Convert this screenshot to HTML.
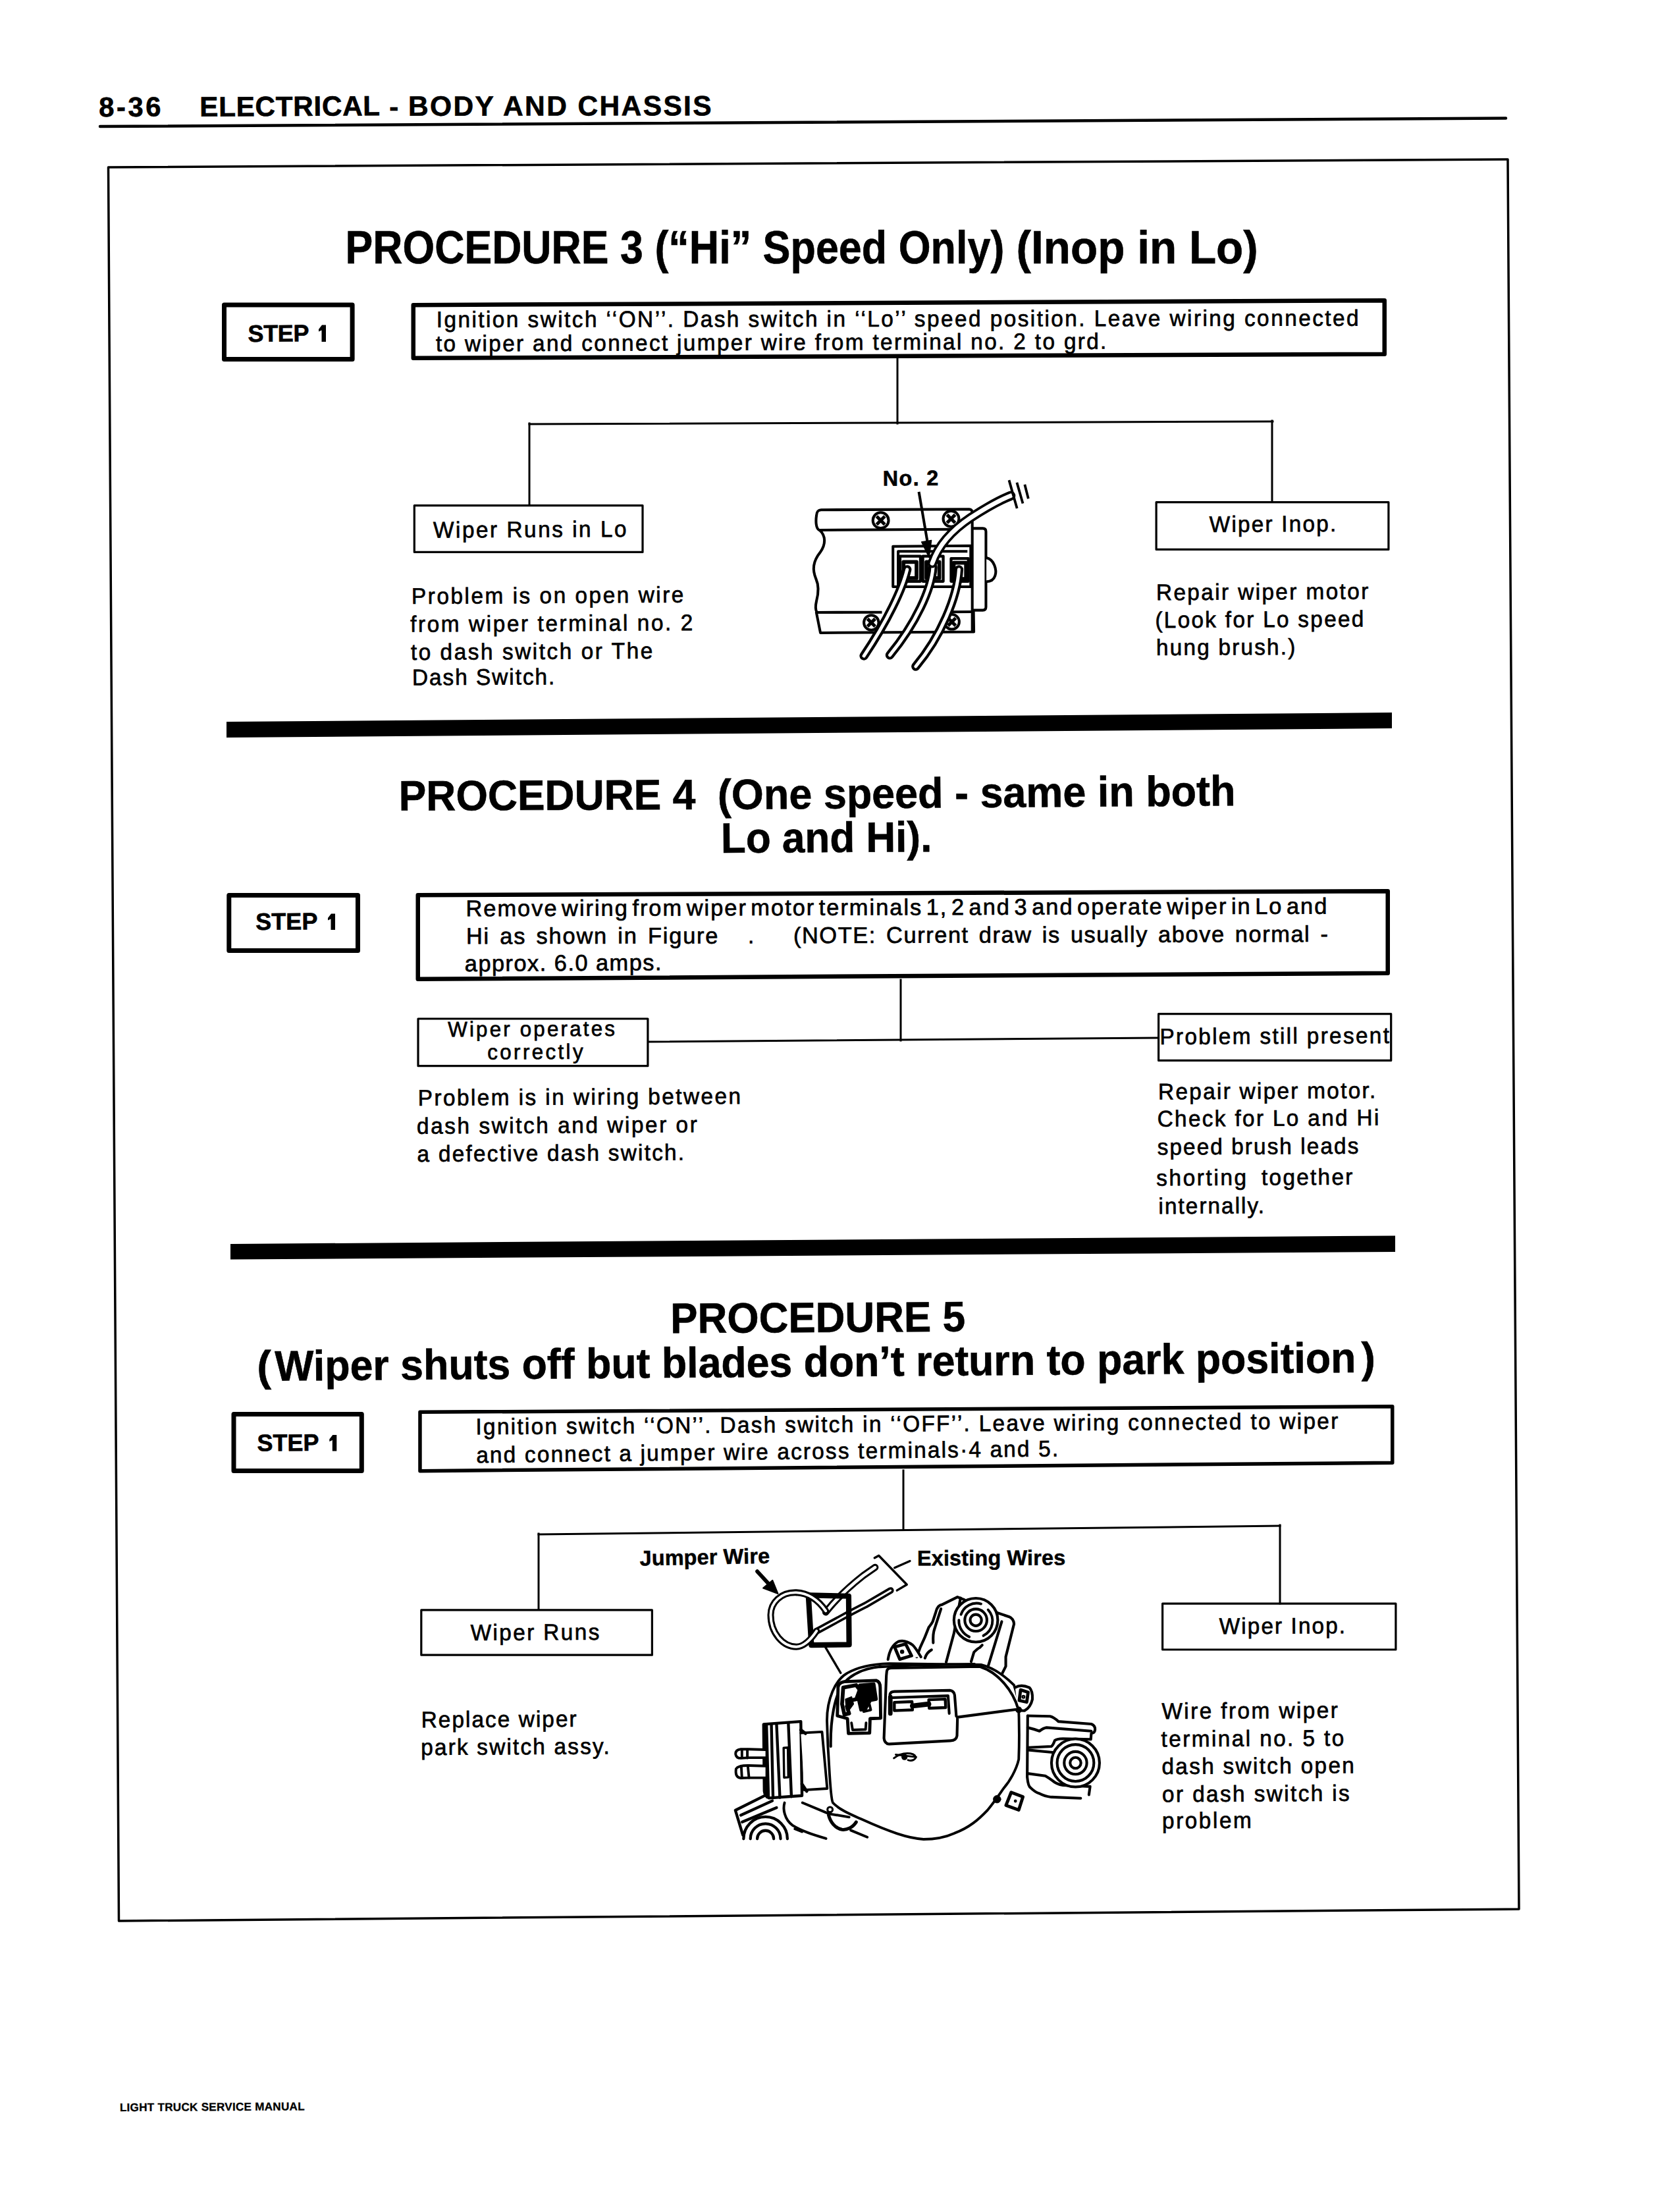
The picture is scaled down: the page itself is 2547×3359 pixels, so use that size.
<!DOCTYPE html>
<html><head><meta charset="utf-8"><title>8-36 Electrical - Body and Chassis</title>
<style>
html,body{margin:0;padding:0;background:#fff;}
body{width:2547px;height:3359px;overflow:hidden;}
svg{display:block;}
text{font-family:"Liberation Sans",sans-serif;fill:#000;stroke:#000;}
</style></head><body>
<svg width="2547" height="3359" viewBox="0 0 2547 3359">
<rect width="2547" height="3359" fill="#fff"/>
<g stroke="#000" fill="none" stroke-linecap="square">
<path d="M152,192 L2287,179.5" stroke-width="4.5" stroke-linecap="round"/>
<path d="M164.5,254 L2290,242 L2307,2899 L180.5,2917 Z" stroke-width="3.5" fill="none" stroke-linejoin="round"/>
<path d="M340.5,463.0 L535.1,463.0 L535.1,545.5 L340.5,545.5 Z" stroke-width="7" fill="none" stroke-linejoin="round"/>
<path d="M484,500.0 L489,493.5 L495,493.5 L495,519 L488.5,519 L488.5,501.5 L484,503.5 Z" fill="#000" stroke="none"/>
<path d="M627.75,463.25 L2102.75,456.25 L2102.75,537.75 L627.75,543.75 Z" stroke-width="6.5" fill="none" stroke-linejoin="round"/>
<line x1="1363" y1="545" x2="1363" y2="643" stroke-width="3"/>
<line x1="804" y1="644" x2="1933" y2="640" stroke-width="3"/>
<line x1="804" y1="643" x2="804" y2="767" stroke-width="3"/>
<line x1="1932" y1="639" x2="1932" y2="762" stroke-width="3"/>
<path d="M629.3000000000001,767.6 L976.0,767.6 L976.0,838.4 L629.3000000000001,838.4 Z" stroke-width="3.2" fill="none" stroke-linejoin="round"/>
<path d="M1756.1,762.6 L2108.9,762.6 L2108.9,834.4 L1756.1,834.4 Z" stroke-width="3.2" fill="none" stroke-linejoin="round"/>
<path d="M344,1096 L2114,1082 L2114,1106 L344,1120 Z" fill="#000" stroke="none"/>
<path d="M347.8,1359.5 L543.5,1359.5 L543.5,1443.5 L347.8,1443.5 Z" stroke-width="7" fill="none" stroke-linejoin="round"/>
<path d="M498,1394.0 L503,1387.5 L509,1387.5 L509,1412 L502.5,1412 L502.5,1395.5 L498,1397.5 Z" fill="#000" stroke="none"/>
<path d="M634.75,1359.25 L2107.75,1353.25 L2107.75,1477.75 L634.75,1486.75 Z" stroke-width="6.5" fill="none" stroke-linejoin="round"/>
<line x1="1368" y1="1488" x2="1368" y2="1580" stroke-width="3"/>
<line x1="985" y1="1582" x2="1758" y2="1576" stroke-width="3"/>
<path d="M635.0,1547.0 L983.9,1547.0 L983.9,1618.7 L635.0,1618.7 Z" stroke-width="3.2" fill="none" stroke-linejoin="round"/>
<path d="M1759.6,1539.6 L2112.7000000000003,1539.6 L2112.7000000000003,1610.4 L1759.6,1610.4 Z" stroke-width="3.2" fill="none" stroke-linejoin="round"/>
<path d="M350,1889 L2119,1876.5 L2119,1901 L350,1912.5 Z" fill="#000" stroke="none"/>
<path d="M355.0,2147.5 L549.3,2147.5 L549.3,2233.5 L355.0,2233.5 Z" stroke-width="7" fill="none" stroke-linejoin="round"/>
<path d="M500.3,2185.5 L505.3,2179 L511.3,2179 L511.3,2203.5 L504.8,2203.5 L504.8,2187 L500.3,2189 Z" fill="#000" stroke="none"/>
<path d="M637.95,2144.35 L2114.75,2135.75 L2114.75,2221.25 L637.95,2233.65 Z" stroke-width="5.5" fill="none" stroke-linejoin="round"/>
<line x1="1372" y1="2233" x2="1372" y2="2323" stroke-width="3"/>
<line x1="818" y1="2330" x2="1944" y2="2317" stroke-width="3"/>
<line x1="818" y1="2329" x2="818" y2="2444" stroke-width="3"/>
<line x1="1944" y1="2316" x2="1944" y2="2435" stroke-width="3"/>
<path d="M639.8000000000001,2444.9 L990.4,2444.9 L990.4,2513.2000000000003 L639.8000000000001,2513.2000000000003 Z" stroke-width="3.2" fill="none" stroke-linejoin="round"/>
<path d="M1765.6,2435.2 L2119.9,2435.2 L2119.9,2505.0 L1765.6,2505.0 Z" stroke-width="3.2" fill="none" stroke-linejoin="round"/>
</g>
<g>
<text x="0" y="0" font-size="41.86" font-weight="bold" textLength="94.3" lengthAdjust="spacing" stroke-width="0.6" transform="translate(150.3 177.0) rotate(-0.330) scale(1.0 1)">8-36</text>
<text x="0" y="0" font-size="42.30" font-weight="bold" textLength="273.9" lengthAdjust="spacing" stroke-width="0.6" transform="translate(303.3 176.8) rotate(-0.330) scale(1.0 1)">ELECTRICAL</text>
<text x="0" y="0" font-size="42.30" font-weight="bold" textLength="12.4" lengthAdjust="spacing" stroke-width="0.6" transform="translate(591.3 176.5) rotate(-0.330) scale(1.0 1)">-</text>
<text x="0" y="0" font-size="42.59" font-weight="bold" textLength="460.8" lengthAdjust="spacing" stroke-width="0.6" transform="translate(619.9 175.8) rotate(-0.088) scale(1.0 1)">BODY AND CHASSIS</text>
<text x="524.6" y="399.7" font-size="69.77" font-weight="bold" textLength="452.1" lengthAdjust="spacingAndGlyphs" stroke-width="0.6" transform="rotate(0.000 524.6 399.7)">PROCEDURE 3</text>
<text x="994.4" y="399.7" font-size="70.49" font-weight="bold" textLength="531.0" lengthAdjust="spacingAndGlyphs" stroke-width="0.6" transform="rotate(0.000 994.4 399.7)">(“Hi” Speed Only)</text>
<text x="1543.6" y="399.6" font-size="71.22" font-weight="bold" textLength="367.2" lengthAdjust="spacingAndGlyphs" stroke-width="0.6" transform="rotate(0.000 1543.6 399.6)">(Inop in Lo)</text>
<text x="0" y="0" font-size="36.05" font-weight="bold" textLength="92.9" lengthAdjust="spacing" stroke-width="0.6" transform="translate(376.6 519.0) rotate(-0.330) scale(1.0 1)">STEP</text>
<text x="0" y="0" font-size="34.45" font-weight="normal" textLength="1444.2" lengthAdjust="spacing" stroke-width="0.7" transform="translate(662.7 497.0) rotate(-0.098) scale(0.97 1)">Ignition switch ‘‘ON’’. Dash switch in ‘‘Lo’’ speed position. Leave wiring connected</text>
<text x="0" y="0" font-size="34.45" font-weight="normal" textLength="1049.9" lengthAdjust="spacing" stroke-width="0.7" transform="translate(662.0 533.6) rotate(-0.214) scale(0.97 1)">to wiper and connect jumper wire from terminal no. 2 to grd.</text>
<text x="0" y="0" font-size="34.45" font-weight="normal" textLength="302.7" lengthAdjust="spacing" stroke-width="0.7" transform="translate(658.0 816.6) rotate(-0.330) scale(0.97 1)">Wiper Runs in Lo</text>
<text x="0" y="0" font-size="34.45" font-weight="normal" textLength="198.6" lengthAdjust="spacing" stroke-width="0.7" transform="translate(1836.7 808.0) rotate(-0.330) scale(0.97 1)">Wiper Inop.</text>
<text x="0" y="0" font-size="34.45" font-weight="normal" textLength="426.2" lengthAdjust="spacing" stroke-width="0.7" transform="translate(625.0 917.1) rotate(-0.330) scale(0.97 1)">Problem is on open wire</text>
<text x="0" y="0" font-size="34.45" font-weight="normal" textLength="442.4" lengthAdjust="spacing" stroke-width="0.7" transform="translate(623.2 959.6) rotate(-0.330) scale(0.97 1)">from wiper terminal no. 2</text>
<text x="0" y="0" font-size="34.45" font-weight="normal" textLength="378.8" lengthAdjust="spacing" stroke-width="0.7" transform="translate(623.9 1002.0) rotate(-0.330) scale(0.97 1)">to dash switch or The</text>
<text x="0" y="0" font-size="34.45" font-weight="normal" textLength="223.2" lengthAdjust="spacing" stroke-width="0.7" transform="translate(625.9 1040.5) rotate(-0.330) scale(0.97 1)">Dash Switch.</text>
<text x="0" y="0" font-size="34.45" font-weight="normal" textLength="332.4" lengthAdjust="spacing" stroke-width="0.7" transform="translate(1755.9 911.3) rotate(-0.330) scale(0.97 1)">Repair wiper motor</text>
<text x="0" y="0" font-size="34.45" font-weight="normal" textLength="326.7" lengthAdjust="spacing" stroke-width="0.7" transform="translate(1754.5 953.3) rotate(-0.330) scale(0.97 1)">(Look for Lo speed</text>
<text x="0" y="0" font-size="34.45" font-weight="normal" textLength="218.1" lengthAdjust="spacing" stroke-width="0.7" transform="translate(1755.9 995.1) rotate(-0.330) scale(0.97 1)">hung brush.)</text>
<text x="605.7" y="1230.8" font-size="64.68" font-weight="bold" textLength="450.8" lengthAdjust="spacingAndGlyphs" stroke-width="0.6" transform="rotate(-0.231 605.7 1230.8)">PROCEDURE 4</text>
<text x="1090.1" y="1229.0" font-size="64.68" font-weight="bold" textLength="786.6" lengthAdjust="spacingAndGlyphs" stroke-width="0.6" transform="rotate(-0.425 1090.1 1229.0)">(One speed - same in both</text>
<text x="1095.1" y="1295.0" font-size="64.68" font-weight="bold" textLength="320.4" lengthAdjust="spacingAndGlyphs" stroke-width="0.6" transform="rotate(-0.330 1095.1 1295.0)">Lo and Hi).</text>
<text x="0" y="0" font-size="36.05" font-weight="bold" textLength="94.3" lengthAdjust="spacing" stroke-width="0.6" transform="translate(388.2 1412.0) rotate(-0.330) scale(1.0 1)">STEP</text>
<text x="0" y="0" font-size="34.45" font-weight="normal" textLength="1307.9" lengthAdjust="spacing" stroke-width="0.7" word-spacing="-6" transform="translate(707.5 1391.3) rotate(-0.162) scale(1.0 1)">Remove wiring from wiper motor terminals 1, 2 and 3 and operate wiper in Lo and</text>
<text x="0" y="0" font-size="34.45" font-weight="normal" textLength="382.6" lengthAdjust="spacing" stroke-width="0.7" word-spacing="4" transform="translate(707.9 1433.3) rotate(-0.106) scale(1.0 1)">Hi as shown in Figure</text>
<text x="0" y="0" font-size="34.45" font-weight="normal" textLength="7.4" lengthAdjust="spacing" stroke-width="0.7" transform="translate(1136.1 1432.4) rotate(-0.330) scale(0.97 1)">.</text>
<text x="0" y="0" font-size="34.45" font-weight="normal" textLength="812.0" lengthAdjust="spacing" stroke-width="0.7" word-spacing="4" transform="translate(1204.9 1432.2) rotate(-0.156) scale(1.0 1)">(NOTE: Current draw is usually above normal -</text>
<text x="0" y="0" font-size="34.45" font-weight="normal" textLength="298.8" lengthAdjust="spacing" stroke-width="0.7" transform="translate(705.8 1475.0) rotate(-0.330) scale(1.0 1)">approx. 6.0 amps.</text>
<text x="0" y="0" font-size="32.41" font-weight="normal" textLength="261.6" lengthAdjust="spacing" stroke-width="0.7" transform="translate(680.2 1574.3) rotate(-0.330) scale(0.97 1)">Wiper operates</text>
<text x="0" y="0" font-size="32.41" font-weight="normal" textLength="149.8" lengthAdjust="spacing" stroke-width="0.7" transform="translate(740.3 1608.7) rotate(-0.330) scale(0.97 1)">correctly</text>
<text x="0" y="0" font-size="34.45" font-weight="normal" textLength="359.4" lengthAdjust="spacing" stroke-width="0.7" transform="translate(1761.4 1586.0) rotate(-0.330) scale(0.97 1)">Problem still present</text>
<text x="0" y="0" font-size="34.45" font-weight="normal" textLength="505.6" lengthAdjust="spacing" stroke-width="0.7" transform="translate(634.7 1678.9) rotate(-0.330) scale(0.97 1)">Problem is in wiring between</text>
<text x="0" y="0" font-size="34.45" font-weight="normal" textLength="438.9" lengthAdjust="spacing" stroke-width="0.7" transform="translate(633.1 1721.7) rotate(-0.330) scale(0.97 1)">dash switch and wiper or</text>
<text x="0" y="0" font-size="34.45" font-weight="normal" textLength="418.1" lengthAdjust="spacing" stroke-width="0.7" transform="translate(633.6 1764.0) rotate(-0.330) scale(0.97 1)">a defective dash switch.</text>
<text x="0" y="0" font-size="34.45" font-weight="normal" textLength="340.5" lengthAdjust="spacing" stroke-width="0.7" transform="translate(1759.1 1669.4) rotate(-0.330) scale(0.97 1)">Repair wiper motor.</text>
<text x="0" y="0" font-size="34.45" font-weight="normal" textLength="347.1" lengthAdjust="spacing" stroke-width="0.7" transform="translate(1757.7 1710.7) rotate(-0.330) scale(0.97 1)">Check for Lo and Hi</text>
<text x="0" y="0" font-size="34.45" font-weight="normal" textLength="315.1" lengthAdjust="spacing" stroke-width="0.7" transform="translate(1757.7 1753.5) rotate(-0.330) scale(0.97 1)">speed brush leads</text>
<text x="0" y="0" font-size="34.45" font-weight="normal" textLength="141.1" lengthAdjust="spacing" stroke-width="0.7" transform="translate(1756.3 1800.4) rotate(-0.330) scale(0.97 1)">shorting</text>
<text x="0" y="0" font-size="34.45" font-weight="normal" textLength="142.5" lengthAdjust="spacing" stroke-width="0.7" transform="translate(1916.1 1799.6) rotate(-0.330) scale(0.97 1)">together</text>
<text x="0" y="0" font-size="34.45" font-weight="normal" textLength="165.4" lengthAdjust="spacing" stroke-width="0.7" transform="translate(1759.6 1843.2) rotate(-0.330) scale(0.97 1)">internally.</text>
<text x="1018.3" y="2024.2" font-size="64.68" font-weight="bold" textLength="447.9" lengthAdjust="spacingAndGlyphs" stroke-width="0.6" transform="rotate(-0.330 1018.3 2024.2)">PROCEDURE 5</text>
<text x="390.5" y="2096.8" font-size="64.68" font-weight="bold" textLength="21.5" lengthAdjust="spacingAndGlyphs" stroke-width="0.6" transform="rotate(-0.437 390.5 2096.8)">(</text>
<text x="417.5" y="2096.6" font-size="64.68" font-weight="bold" textLength="1642.0" lengthAdjust="spacingAndGlyphs" stroke-width="0.6" transform="rotate(-0.437 417.5 2096.6)">Wiper shuts off but blades don’t return to park position</text>
<text x="2067.7" y="2084.0" font-size="64.68" font-weight="bold" textLength="21.3" lengthAdjust="spacingAndGlyphs" stroke-width="0.6" transform="rotate(-0.437 2067.7 2084.0)">)</text>
<text x="0" y="0" font-size="36.05" font-weight="bold" textLength="93.9" lengthAdjust="spacing" stroke-width="0.6" transform="translate(390.6 2203.5) rotate(-0.330) scale(1.0 1)">STEP</text>
<text x="0" y="0" font-size="34.45" font-weight="normal" textLength="1350.4" lengthAdjust="spacing" stroke-width="0.7" transform="translate(722.5 2178.3) rotate(-0.386) scale(0.97 1)">Ignition switch ‘‘ON’’. Dash switch in ‘‘OFF’’. Leave wiring connected to wiper</text>
<text x="0" y="0" font-size="34.45" font-weight="normal" textLength="911.3" lengthAdjust="spacing" stroke-width="0.7" transform="translate(723.4 2221.2) rotate(-0.637) scale(0.97 1)">and connect a jumper wire across terminals·4 and 5.</text>
<text x="0" y="0" font-size="34.45" font-weight="normal" textLength="201.7" lengthAdjust="spacing" stroke-width="0.7" transform="translate(714.7 2491.0) rotate(-0.330) scale(0.97 1)">Wiper Runs</text>
<text x="0" y="0" font-size="34.45" font-weight="normal" textLength="197.4" lengthAdjust="spacing" stroke-width="0.7" transform="translate(1851.7 2481.3) rotate(-0.330) scale(0.97 1)">Wiper Inop.</text>
<text x="0" y="0" font-size="32.41" font-weight="bold" textLength="197.5" lengthAdjust="spacing" stroke-width="0.5" transform="translate(971.8 2377.4) rotate(-1.058) scale(1.0 1)">Jumper Wire</text>
<text x="0" y="0" font-size="32.41" font-weight="bold" textLength="225.4" lengthAdjust="spacing" stroke-width="0.5" transform="translate(1392.9 2377.3) rotate(-0.206) scale(1.0 1)">Existing Wires</text>
<text x="0" y="0" font-size="34.45" font-weight="normal" textLength="243.3" lengthAdjust="spacing" stroke-width="0.7" transform="translate(639.7 2623.2) rotate(-0.330) scale(0.97 1)">Replace wiper</text>
<text x="0" y="0" font-size="34.45" font-weight="normal" textLength="295.4" lengthAdjust="spacing" stroke-width="0.7" transform="translate(639.2 2665.0) rotate(-0.330) scale(0.97 1)">park switch assy.</text>
<text x="0" y="0" font-size="34.45" font-weight="normal" textLength="275.7" lengthAdjust="spacing" stroke-width="0.7" transform="translate(1764.4 2610.2) rotate(-0.330) scale(0.97 1)">Wire from wiper</text>
<text x="0" y="0" font-size="34.45" font-weight="normal" textLength="286.5" lengthAdjust="spacing" stroke-width="0.7" transform="translate(1763.5 2652.4) rotate(-0.330) scale(0.97 1)">terminal no. 5 to</text>
<text x="0" y="0" font-size="34.45" font-weight="normal" textLength="301.6" lengthAdjust="spacing" stroke-width="0.7" transform="translate(1764.4 2694.0) rotate(-0.330) scale(0.97 1)">dash switch open</text>
<text x="0" y="0" font-size="34.45" font-weight="normal" textLength="293.5" lengthAdjust="spacing" stroke-width="0.7" transform="translate(1765.1 2736.3) rotate(-0.330) scale(0.97 1)">or dash switch is</text>
<text x="0" y="0" font-size="34.45" font-weight="normal" textLength="139.9" lengthAdjust="spacing" stroke-width="0.7" transform="translate(1765.1 2776.5) rotate(-0.330) scale(0.97 1)">problem</text>
<text x="0" y="0" font-size="17.15" font-weight="bold" textLength="280.8" lengthAdjust="spacing" stroke-width="0.3" transform="translate(181.9 3206.0) rotate(-0.330) scale(1.0 1)">LIGHT TRUCK SERVICE MANUAL</text>
</g>
<g transform="translate(1200,680) scale(0.23852)" stroke-linejoin="round"><path d="M1155,513 L1227,513 Q1247,513 1247,533 L1247,1014 Q1247,1034 1227,1034 L1160,1034" fill="#fff" stroke="#000" stroke-width="17"/><path d="M1250,700 C1300,710 1318,780 1305,815 C1295,845 1272,852 1250,852" fill="#fff" stroke="#000" stroke-width="17"/><path d="M188,524 C228,560 228,615 192,665 C145,725 140,775 165,835 C185,880 180,930 168,975 C160,1010 160,1030 170,1046" fill="none" stroke="#000" stroke-width="17"/><path d="M1050,519 L185,524 C165,515 162,470 168,430 C170,405 178,396 198,395 L1140,391 Q1158,392 1160,410 L1160,1176" fill="none" stroke="#000" stroke-width="17"/><path d="M585,1047 L167,1048 L193,1178 L1170,1172 L1168,1040" fill="none" stroke="#000" stroke-width="17"/><path d="M1010,1045 L1165,1044" fill="none" stroke="#000" stroke-width="17"/><circle cx="577" cy="462" r="50" fill="#fff" stroke="#000" stroke-width="17"/><path d="M551.0,436.0 L603.0,488.0 M603.0,436.0 L551.0,488.0" stroke="#000" stroke-width="21"/><circle cx="1025" cy="452" r="50" fill="#fff" stroke="#000" stroke-width="17"/><path d="M999.0,426.0 L1051.0,478.0 M1051.0,426.0 L999.0,478.0" stroke="#000" stroke-width="21"/><circle cx="517" cy="1113" r="47" fill="#fff" stroke="#000" stroke-width="17"/><path d="M492.56,1088.56 L541.44,1137.44 M541.44,1088.56 L492.56,1137.44" stroke="#000" stroke-width="21"/><circle cx="1030" cy="1108" r="47" fill="#fff" stroke="#000" stroke-width="17"/><path d="M1005.56,1083.56 L1054.44,1132.44 M1054.44,1083.56 L1005.56,1132.44" stroke="#000" stroke-width="21"/><path d="M655,628 L1150,624 L1150,885 L655,885 Z" fill="#fff" stroke="#000" stroke-width="17"/><path d="M688,880 L688,659 L1129,659" fill="none" stroke="#000" stroke-width="17"/><path d="M700,690 L830,690 L830,850 L700,850 Z" fill="#fff" stroke="#000" stroke-width="18"/><path d="M845,690 L975,690 L975,850 L845,850 Z" fill="#fff" stroke="#000" stroke-width="18"/><path d="M1025,705 L1135,705 L1135,850 L1025,850 Z" fill="#fff" stroke="#000" stroke-width="18"/><path d="M722,727 L805,727 L805,830 L722,830 Z" fill="#fff" stroke="#000" stroke-width="24"/><path d="M868,727 L950,727 L950,830 L868,830 Z" fill="#fff" stroke="#000" stroke-width="24"/><path d="M1042,732 L1120,732 L1120,835 L1042,835 Z" fill="#fff" stroke="#000" stroke-width="24"/><ellipse cx="735" cy="800" rx="28" ry="45" fill="#000"/><ellipse cx="898" cy="790" rx="26" ry="48" fill="#000"/><ellipse cx="1062" cy="800" rx="26" ry="45" fill="#000"/><path d="M745,775 C715,900 620,1100 470,1325" stroke="#000" stroke-width="56" fill="none" stroke-linecap="round"/><path d="M745,775 C715,900 620,1100 470,1325" stroke="#fff" stroke-width="21" fill="none" stroke-linecap="round"/><path d="M910,760 C900,900 800,1120 635,1320" stroke="#000" stroke-width="56" fill="none" stroke-linecap="round"/><path d="M910,760 C900,900 800,1120 635,1320" stroke="#fff" stroke-width="21" fill="none" stroke-linecap="round"/><path d="M1075,775 C1065,950 960,1200 800,1392" stroke="#000" stroke-width="56" fill="none" stroke-linecap="round"/><path d="M1075,775 C1065,950 960,1200 800,1392" stroke="#fff" stroke-width="21" fill="none" stroke-linecap="round"/><path d="M905,735 C945,620 1030,525 1150,445 C1250,380 1330,335 1405,305" stroke="#000" stroke-width="60" fill="none" stroke-linecap="round"/><path d="M905,735 C945,620 1030,525 1150,445 C1250,380 1330,335 1405,305" stroke="#fff" stroke-width="28" fill="none" stroke-linecap="round"/><path d="M1394,206 L1445,386 M1444,221 L1482,354 M1494,234 L1517,324" stroke="#000" stroke-width="16" fill="none"/><path d="M820,280 L878,620" stroke="#000" stroke-width="17" fill="none"/><path d="M837,599 L900,589 L885,699 Z" fill="#000" stroke="#000" stroke-width="6"/></g><text x="1340.8" y="737.4" font-size="32.4" font-weight="bold" textLength="84.5" lengthAdjust="spacing" stroke-width="0.6" transform="rotate(-0.33 1340.8 737.4)">No. 2</text><g transform="translate(1100,2330) scale(0.35778)" stroke-linejoin="round" stroke-linecap="round"><path d="M1288,770 L1383,772 Q1400,776 1418,794 L1558,805 Q1575,812 1574,828 Q1574,842 1558,845 L1556,870 L1438,867 Q1410,868 1403,875 Q1395,897 1388,900 L1288,905" stroke="#000" stroke-width="11.5" fill="#fff"/><path d="M1288,770 L1286,1030 Q1290,1070 1300,1075 Q1320,1095 1338,1100 Q1360,1112 1388,1115 L1513,1120" stroke="#000" stroke-width="11.5" fill="none"/><path d="M1288,820 Q1310,825 1338,835 Q1355,822 1368,820 L1558,835" stroke="#000" stroke-width="11.5" fill="none"/><path d="M1288,915 L1393,925" stroke="#000" stroke-width="11.5" fill="none"/><path d="M1288,1015 L1363,1025 Q1380,1035 1393,1045 Q1410,1060 1438,1065 L1553,1070 L1548,1105" stroke="#000" stroke-width="11.5" fill="none"/><circle cx="1491" cy="970" r="102" stroke="#000" stroke-width="11.5" fill="#fff"/><circle cx="1491" cy="970" r="78" stroke="#000" stroke-width="11.5" fill="none"/><circle cx="1491" cy="970" r="48" stroke="#000" stroke-width="11.5" fill="none"/><circle cx="1491" cy="970" r="23" stroke="#000" stroke-width="11.5" fill="none"/><path d="M817,520 Q830,480 850,440 L868,395 Q880,380 885,370 L898,330 Q905,300 925,298 L990,266 L1020,278" stroke="#000" stroke-width="11.5" fill="#fff"/><path d="M942,542 L975,420 L1003,270" stroke="#000" stroke-width="11.5" fill="none"/><path d="M887,460 Q885,420 893,400 L920,316" stroke="#000" stroke-width="11.5" fill="none"/><path d="M852,525 Q860,500 880,490" stroke="#000" stroke-width="11.5" fill="none"/><path d="M1150,330 L1210,350 Q1228,358 1230,380 L1195,520 Q1195,540 1195,560 L1175,600" stroke="#000" stroke-width="11.5" fill="none"/><path d="M1178,370 L1120,560" stroke="#000" stroke-width="11.5" fill="none"/><path d="M1048,540 L1060,500 Q1075,485 1085,480 L1095,470" stroke="#000" stroke-width="11.5" fill="none"/><circle cx="1068" cy="364" r="93" stroke="#000" stroke-width="11.5" fill="#fff"/><path d="M1005,340 A70,70 0 0 1 1090,295 M1120,320 A70,70 0 0 1 1100,430 M1040,435 A75,75 0 0 1 996,364" stroke="#000" stroke-width="11" fill="none"/><circle cx="1068" cy="364" r="47" stroke="#000" stroke-width="11.5" fill="none"/><circle cx="1068" cy="364" r="24" stroke="#000" stroke-width="11.5" fill="none"/><path d="M436,790 C436,700 470,620 520,590 C570,560 640,550 700,548 L1090,553 C1140,565 1190,600 1230,640 L1248,700 C1252,780 1252,900 1250,955 C1240,1000 1210,1050 1188,1075 C1170,1100 1150,1130 1118,1170 C1080,1210 1040,1245 978,1268 C940,1285 900,1294 846,1294 C780,1290 700,1262 583,1209 C540,1190 490,1170 461,1139 C450,1120 447,1000 440,900 Z" stroke="#000" stroke-width="10.8" fill="#fff"/><path d="M452,900 C450,780 470,690 500,640 C540,590 600,568 660,562 L800,555 L1062,551" stroke="#000" stroke-width="11.5" fill="none"/><path d="M695,531 C700,500 710,470 739,455 C760,448 780,455 800,470 C815,485 825,505 835,520" stroke="#000" stroke-width="11.5" fill="#fff"/><path d="M723,478 L770,465 L795,515 L745,530 Z" stroke="#000" stroke-width="13.5" fill="none"/><circle cx="755" cy="498" r="5" stroke="#000" stroke-width="8.1" fill="#000"/><path d="M1235,650 Q1260,635 1295,650 Q1310,665 1308,700 Q1300,735 1275,748 Q1255,750 1245,740" stroke="#000" stroke-width="11.5" fill="#fff"/><path d="M1258,660 L1290,670 L1284,712 L1252,705 Z" stroke="#000" stroke-width="13.5" fill="none"/><circle cx="1270" cy="690" r="5" stroke="#000" stroke-width="6.8" fill="none"/><circle cx="1250" cy="745" r="10" stroke="#000" stroke-width="8.1" fill="none"/><path d="M690,580 Q692,568 710,567 L1085,561 C1160,585 1225,660 1248,742 L990,776 L988,855 Q985,875 960,876 L700,890 Q680,888 678,865 L688,600 Z" stroke="#000" stroke-width="11.5" fill="#fff"/><path d="M703,680 Q706,667 722,667 L958,662 Q975,664 978,682 L985,772" stroke="#000" stroke-width="11.5" fill="none"/><path d="M712,693 L950,685 L955,760" stroke="#000" stroke-width="11.5" fill="none"/><path d="M705,690 L705,760" stroke="#000" stroke-width="18.9" fill="none"/><path d="M722,713 L797,710 L799,745 L722,748 Z" stroke="#000" stroke-width="12.2" fill="#fff"/><path d="M868,702 L938,699 L940,735 L870,738 Z" stroke="#000" stroke-width="12.2" fill="#fff"/><path d="M799,728 L868,720" stroke="#000" stroke-width="21.6" fill="none"/><path d="M483,655 Q480,630 510,625 L645,620 Q662,625 662,650 L664,780 L619,782 L617,843 L527,845 L523,782 L480,770 Z" stroke="#000" stroke-width="13.5" fill="#fff"/><path d="M505,650 L560,640 L575,660 L560,700 L535,705 L520,730 L530,760 L510,765 L500,720 Z" stroke="#000" stroke-width="16.2" fill="none"/><path d="M515,700 L540,690 L548,720 L530,745 L518,735 Z" stroke="#000" stroke-width="5.4" fill="#000"/><path d="M585,720 L615,716 L622,745 L592,752 Z" stroke="#000" stroke-width="10.8" fill="none"/><path d="M575,640 L635,635 L645,700 L620,705 L600,740 L580,745 L570,700 Z" stroke="#000" stroke-width="13.5" fill="#000"/><path d="M540,800 L545,830 L600,828 L602,800" stroke="#000" stroke-width="10.8" fill="none"/><path d="M167,806 L325,794 L330,1109 L190,1119 Q172,1110 170,1090 Z" stroke="#000" stroke-width="12.2" fill="#fff"/><path d="M200,806 L207,1119 M222,806 L236,1117 M272,800 L285,1113" stroke="#000" stroke-width="12.2" fill="none"/><path d="M176,812 L184,1112" stroke="#000" stroke-width="18.9" fill="none"/><path d="M252,906 L270,905 L272,1031 L254,1032 Z" stroke="#000" stroke-width="9.5" fill="none"/><path d="M325,843 L415,838 L437,1079 L340,1085" stroke="#000" stroke-width="10.8" fill="#fff"/><path d="M330,1060 L350,1090 M325,830 L345,845" stroke="#000" stroke-width="13.5" fill="none"/><path d="M175,914 L105,912 Q90,912 70,912 Q48,914 48,932 Q50,950 70,950 L105,948 L175,948" stroke="#000" stroke-width="10.8" fill="#fff"/><path d="M75,914 L75,948 M98,913 L98,949" stroke="#000" stroke-width="10.8" fill="none"/><path d="M175,983 L105,981 Q60,980 50,995 Q45,1030 68,1034 L105,1033 L175,1033" stroke="#000" stroke-width="10.8" fill="#fff"/><path d="M72,983 L75,1033 M100,982 L105,1033" stroke="#000" stroke-width="10.8" fill="none"/><path d="M47,1171 L175,1107 M70,1192 L204,1131 M47,1171 L79,1276 M76,1221 L222,1160" stroke="#000" stroke-width="12" fill="none"/><path d="M256,1139 C248,1165 255,1210 290,1235 C330,1260 380,1275 432,1291" stroke="#000" stroke-width="11" fill="none"/><path d="M332,1139 L445,1186 L530,1200" stroke="#000" stroke-width="11" fill="none"/><path d="M82,1292 A93,93 0 0 1 268,1292 M111,1292 A64,64 0 0 1 239,1292 M140,1292 A35,35 0 0 1 210,1292" stroke="#000" stroke-width="12" fill="none"/><circle cx="449" cy="1168" r="11" stroke="#000" stroke-width="8.5" fill="none"/><path d="M443,1192 C450,1220 470,1248 500,1253 C520,1255 545,1245 560,1221" stroke="#000" stroke-width="14" fill="none"/><path d="M537,1256 L607,1285 M300,1250 L330,1262" stroke="#000" stroke-width="11" fill="none"/><path d="M720,950 Q750,925 790,930 Q815,935 812,950 Q800,965 780,958 M728,935 L815,945" stroke="#000" stroke-width="8.1" fill="none"/><circle cx="765" cy="945" r="9" stroke="#000" stroke-width="8.1" fill="#000"/><circle cx="1158" cy="1124" r="16" stroke="#000" stroke-width="2.7" fill="#000"/><path d="M1218,1095 L1268,1114 L1250,1170 L1196,1150 Z" stroke="#000" stroke-width="13.5" fill="none"/><circle cx="1236" cy="1132" r="4" stroke="#000" stroke-width="5.4" fill="#000"/><path d="M431,330 C470,280 520,230 590,175 L640,140" stroke="#000" stroke-width="30" fill="none" stroke-linecap="round"/><path d="M431,330 C470,280 520,230 590,175 L640,140" stroke="#fff" stroke-width="13" fill="none" stroke-linecap="round"/><path d="M390,412 C450,380 520,340 600,300 L706,238" stroke="#000" stroke-width="28" fill="none" stroke-linecap="round"/><path d="M390,412 C450,380 520,340 600,300 L706,238" stroke="#fff" stroke-width="8" fill="none" stroke-linecap="round"/><path d="M357,258 L528,262 L530,468 L370,470 Z" stroke="#000" stroke-width="23.0" fill="none"/><path d="M431,325 C400,280 360,250 306,247 C240,245 197,290 197,342 C197,420 250,477 306,477 C335,477 365,450 392,410" stroke="#000" stroke-width="28" fill="none" stroke-linecap="round"/><path d="M431,325 C400,280 360,250 306,247 C240,245 197,290 197,342 C197,420 250,477 306,477 C335,477 365,450 392,410" stroke="#fff" stroke-width="11" fill="none" stroke-linecap="round"/><path d="M638,100 L656,90 L775,213 L733,238" stroke="#000" stroke-width="9.5" fill="none"/><path d="M723,142 L788,113" stroke="#000" stroke-width="9.5" fill="none"/><path d="M140,157 L205,228" stroke="#000" stroke-width="16.2" fill="none"/><path d="M165,228 L205,195 L228,252 Z" stroke="#000" stroke-width="5.4" fill="#000"/><path d="M427,475 L494,588" stroke="#000" stroke-width="9.5" fill="none"/></g>
</svg>
</body></html>
